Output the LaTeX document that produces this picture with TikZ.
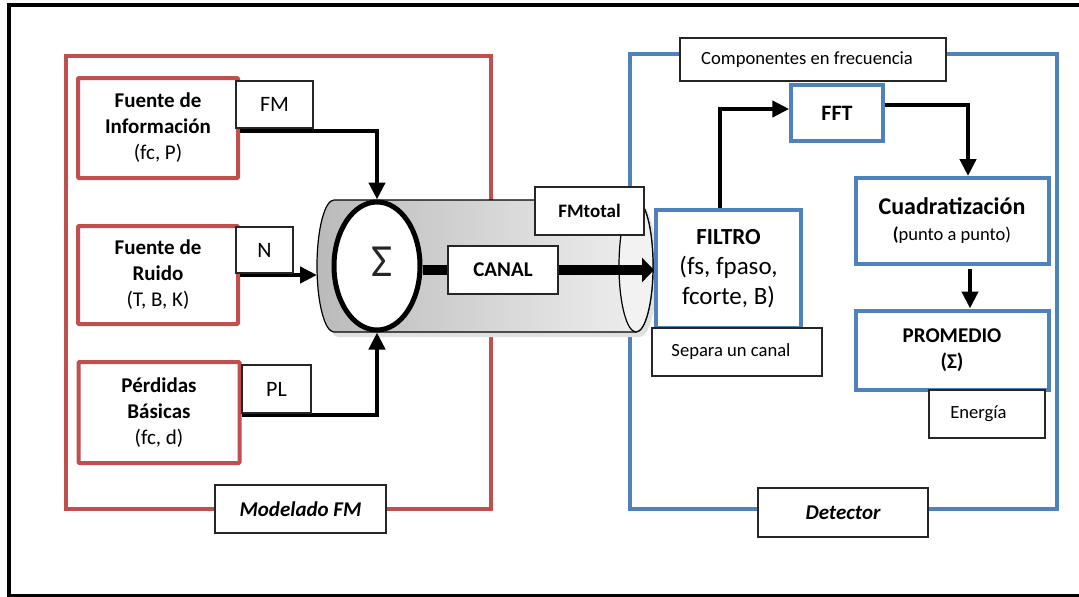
\documentclass[tikz,border=0pt]{standalone}
\usepackage{fontspec}
\setmainfont{Carlito}
\usetikzlibrary{arrows.meta,shapes.geometric}
\definecolor{myred}{HTML}{C0504D}
\definecolor{myblue}{HTML}{4F81BD}
\tikzset{
 redbox/.style={draw=myred, line width=4pt, fill=white, align=center, inner sep=0pt, rounded corners=1pt, font=\fontsize{21}{26}\selectfont},
 bluebox/.style={draw=myblue, line width=4pt, fill=white, align=center, inner sep=0pt, font=\fontsize{21}{26}\selectfont},
 lbl/.style={draw=black!85, line width=1.1pt, fill=white, align=center, inner sep=0pt, font=\fontsize{18.6}{22}\selectfont},
 big/.style={font=\fontsize{22}{26}\selectfont},
 bi/.style={font=\fontsize{21}{26}\selectfont\bfseries\itshape},
 arr/.style={line width=4.5pt, -{Triangle[length=17pt,width=16pt]}},
 bigarr/.style={line width=10pt, -{Triangle[length=12pt,width=24pt]}},
}
\begin{document}
\begin{tikzpicture}[x=1pt,y=-1pt]
\useasboundingbox (0,0) rectangle (1079,597);
% outer frame (open on the right)
\draw[line width=4pt] (1090,5) -- (9,5) -- (9,596) -- (1090,596);
% group frames
\draw[myred,line width=4pt] (66,55.5) rectangle (491,509);
\draw[myblue,line width=4pt] (630,54) rectangle (1057,509);
% cylinder (channel)
\fill[black!12] (640,205) -- (338,205) arc[start angle=270,end angle=90,x radius=17,y radius=66]
  -- (640,337) arc[start angle=90,end angle=-90,x radius=17,y radius=66] -- cycle;
\shade[left color=black!27, right color=black!6, draw=black, line width=1.2pt]
  (636,200) -- (334,200) arc[start angle=270,end angle=90,x radius=17,y radius=66]
  -- (636,332) arc[start angle=90,end angle=-90,x radius=17,y radius=66] -- cycle;
\draw[fill=black!5, line width=1.2pt] (636,266) ellipse [x radius=17, y radius=66];
\coordinate (cylL) at (317,276);
% summing junction
\node[ellipse, draw, line width=5pt, fill=white, minimum width=86pt, minimum height=128pt, inner sep=0pt] (sum) at (377,266) {};
\node[font=\fontsize{46}{46}\selectfont, text=black!85, inner sep=0pt] (sigma) at (382,262) {Σ};
\node[lbl, minimum width=110pt, minimum height=48pt, font=\fontsize{21}{24}\selectfont\bfseries] (canal) at (503,270) {CANAL};
\node[lbl, minimum width=109pt, minimum height=48pt, font=\fontsize{19}{22}\selectfont\bfseries] (fmt) at (589.5,211) {FMtotal};
% sources
\node[redbox, minimum width=160pt, minimum height=100pt] (info) at (158,128) {\textbf{Fuente de}\\\textbf{Información}\\(fc, P)};
\node[redbox, minimum width=160pt, minimum height=98pt] (noise) at (158,275) {\textbf{Fuente de}\\\textbf{Ruido}\\(T, B, K)};
\node[redbox, minimum width=161pt, minimum height=101pt] (loss) at (159,412.5) {\textbf{Pérdidas}\\\textbf{Básicas}\\(fc, d)};
% detector blocks
\node[bluebox, minimum width=91.5pt, minimum height=56.5pt, font=\fontsize{22}{26}\selectfont\bfseries] (fft) at (837,113) {FFT};
\node[bluebox, minimum width=145pt, minimum height=118pt, font=\fontsize{25}{30}\selectfont] (filtro) at (728.5,269) {{\fontsize{23}{30}\selectfont\bfseries FILTRO}\\(fs, fpaso,\\fcorte, B)};
\node[bluebox, minimum width=193pt, minimum height=86pt] (cuad) at (952,221) {{\fontsize{24}{26}\selectfont\bfseries Cuadratización}\\{\fontsize{18.5}{26}\selectfont\textbf{(}punto a punto)}};
\node[bluebox, minimum width=193pt, minimum height=79pt] (prom) at (952,350) {\textbf{PROMEDIO}\\\textbf{(Σ)}};
% connectors
\draw[arr] ([yshift=-3pt]info.east) -| (sum.north);
\draw[arr] (noise.east) -- (noise.east -| cylL);
\draw[arr] ([yshift=-2.5pt]loss.east) -| (sum.south);
\draw[line width=10pt] (canal.west -| sum.east) -- (canal.west);
\draw[bigarr] (canal.east) -- (canal.east -| filtro.west);
\draw[arr] ([xshift=-8.5pt]filtro.north) |- ([yshift=4pt]fft.west);
\draw[arr] ([yshift=8pt]fft.east) -| ([xshift=16pt]cuad.north);
\draw[arr] ([xshift=18pt,yshift=-3pt]cuad.south) -- ([xshift=18pt]prom.north);
% labels
\node[lbl, big, minimum width=77pt, minimum height=47pt] (fm) at (274.5,104.5) {FM};
\node[lbl, big, minimum width=57pt, minimum height=46pt] (n) at (264.5,250) {N};
\node[lbl, big, minimum width=69pt, minimum height=48pt] (pl) at (276.5,389) {PL};
\node[lbl, bi, minimum width=171pt, minimum height=48pt] (mod) at (300.5,509) {Modelado FM};
\node[lbl, minimum width=266pt, minimum height=43pt] (comp) at (813,59.5) {Componentes en frecuencia\hspace{12pt}};
\node[lbl, minimum width=170pt, minimum height=48pt] (sep) at (737,352) {Separa un canal\hspace{12pt}};
\node[lbl, minimum width=116pt, minimum height=48pt] (ener) at (987,414) {Energía\hspace{17pt}};
\node[lbl, bi, minimum width=170pt, minimum height=49pt] (det) at (843,512.5) {Detector};
\end{tikzpicture}
\end{document}
